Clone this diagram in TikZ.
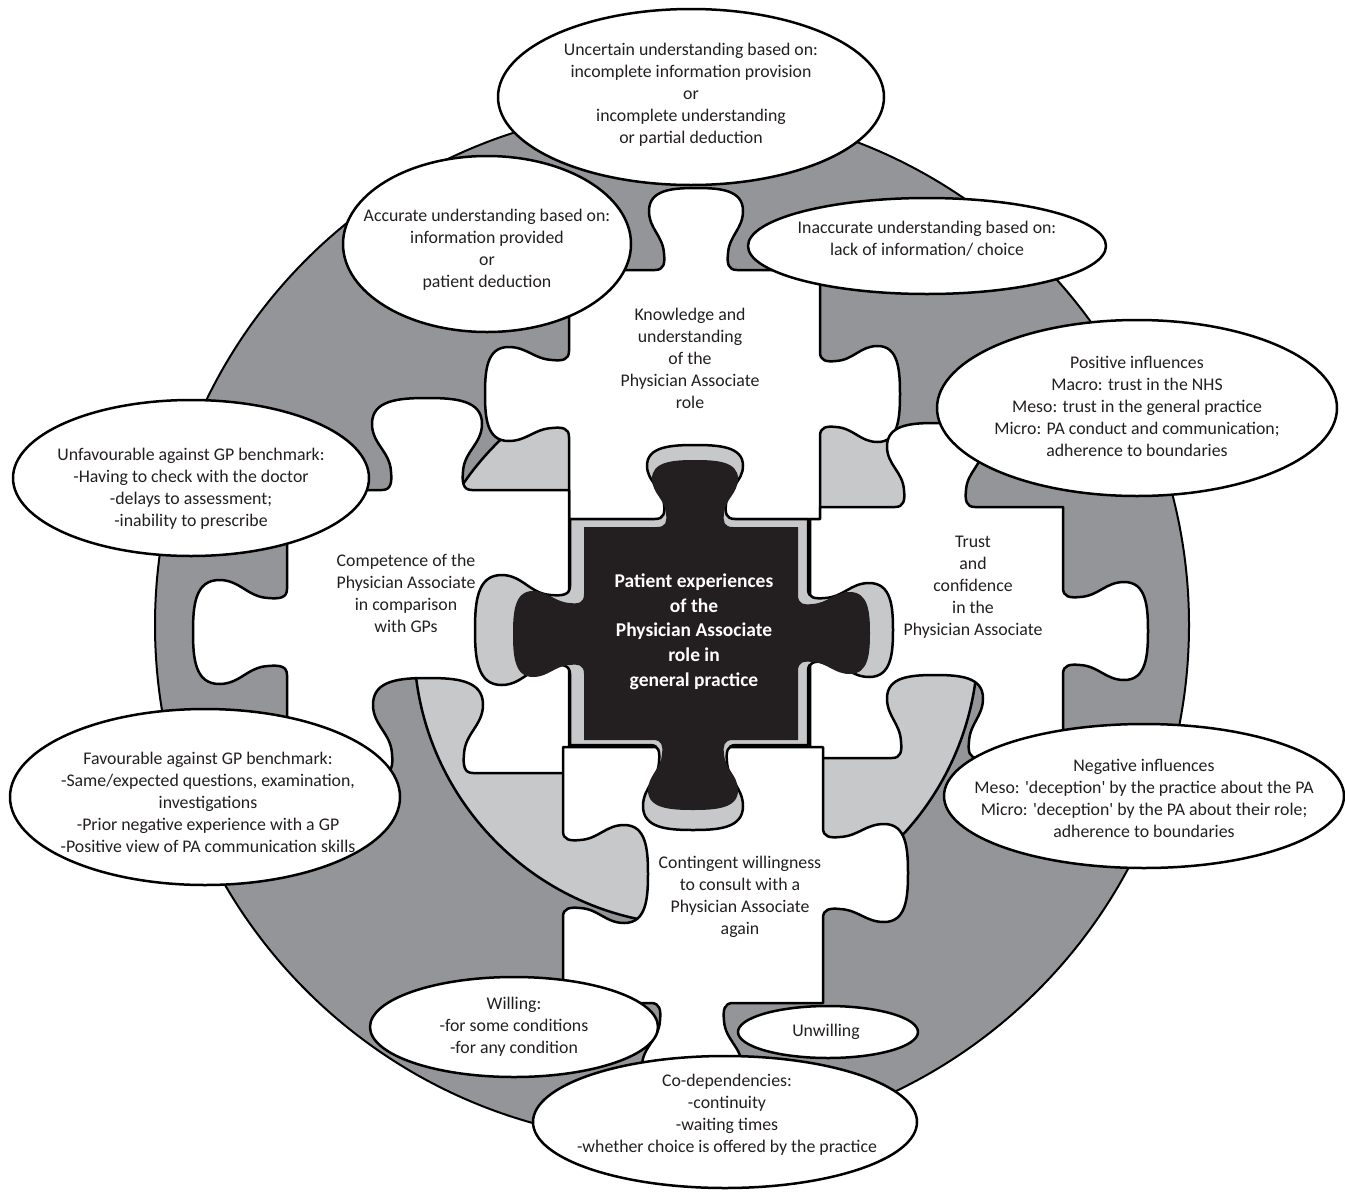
\documentclass[tikz,border=0pt]{standalone}
\usepackage{fontspec}
\setmainfont{Carlito}
\definecolor{dgray}{HTML}{939598}
\definecolor{lgray}{HTML}{C7C8CA}
\definecolor{pblack}{HTML}{231F20}
% knob / blank on an edge: #1,#2 base centre; #3,#4 tangent; #5,#6 outward normal; #7 neck half width; #8 bulb half width; #9 height
\newcommand\KN[9]{%
 -- ({#1+(-#7-8)*(#3)},{#2+(-#7-8)*(#4)})
 .. controls ({#1+(-#7+1)*(#3)},{#2+(-#7+1)*(#4)}) and ({#1+(-#7+2)*(#3)+0.08*#9*(#5)},{#2+(-#7+2)*(#4)+0.08*#9*(#6)}) .. ({#1+(-#7+1)*(#3)+0.2*#9*(#5)},{#2+(-#7+1)*(#4)+0.2*#9*(#6)})
 .. controls ({#1+(-#7)*(#3)+0.42*#9*(#5)},{#2+(-#7)*(#4)+0.42*#9*(#6)}) and ({#1+(-#8)*(#3)+0.5*#9*(#5)},{#2+(-#8)*(#4)+0.5*#9*(#6)}) .. ({#1+(-#8)*(#3)+0.72*#9*(#5)},{#2+(-#8)*(#4)+0.72*#9*(#6)})
 .. controls ({#1+(-#8)*(#3)+0.98*#9*(#5)},{#2+(-#8)*(#4)+0.98*#9*(#6)}) and ({#1+(-0.5*#8)*(#3)+#9*(#5)},{#2+(-0.5*#8)*(#4)+#9*(#6)}) .. ({#1+#9*(#5)},{#2+#9*(#6)})
 .. controls ({#1+(0.5*#8)*(#3)+#9*(#5)},{#2+(0.5*#8)*(#4)+#9*(#6)}) and ({#1+(#8)*(#3)+0.98*#9*(#5)},{#2+(#8)*(#4)+0.98*#9*(#6)}) .. ({#1+(#8)*(#3)+0.72*#9*(#5)},{#2+(#8)*(#4)+0.72*#9*(#6)})
 .. controls ({#1+(#8)*(#3)+0.5*#9*(#5)},{#2+(#8)*(#4)+0.5*#9*(#6)}) and ({#1+(#7)*(#3)+0.42*#9*(#5)},{#2+(#7)*(#4)+0.42*#9*(#6)}) .. ({#1+(#7-1)*(#3)+0.2*#9*(#5)},{#2+(#7-1)*(#4)+0.2*#9*(#6)})
 .. controls ({#1+(#7-2)*(#3)+0.08*#9*(#5)},{#2+(#7-2)*(#4)+0.08*#9*(#6)}) and ({#1+(#7-1)*(#3)},{#2+(#7-1)*(#4)}) .. ({#1+(#7+8)*(#3)},{#2+(#7+8)*(#4)})
}
\newcommand\st{\rule[-6.6pt]{0pt}{22pt}}
\newcommand\stb{\rule[-7.4pt]{0pt}{24.7pt}}
\newcommand\q{\textquotesingle}
\begin{document}
\begin{tikzpicture}[x=1pt,y=-1pt,
  outl/.style={draw=black, line width=2.5pt, line join=round},
  piece/.style={outl, fill=white},
  bubble/.style={outl, fill=white},
  txt/.style={align=center, text=pblack, font=\fontsize{17.8}{22}\selectfont, inner sep=0pt},
  ctxt/.style={align=center, text=white, font=\bfseries\fontsize{19.5}{24.7}\selectfont, inner sep=0pt}]
\useasboundingbox (0,0) rectangle (1345,1192);
\fill[white] (0,0) rectangle (1345,1192);
% background discs
\path[fill=dgray, draw=black, line width=2pt] (672,625) circle (517pt);
\path[fill=lgray, draw=black, line width=2.5pt] (696,643) circle (282pt);
% white puzzle pieces
\path[piece] (569,270) \KN{696}{270}{1}{0}{0}{-1}{33}{47}{82} -- (820,270)
   \KN{820}{394}{0}{1}{1}{0}{34}{48}{80} -- (820,519) -- (569,519)
   \KN{569}{394}{0}{-1}{-1}{0}{35}{47}{84} -- cycle;
\path[piece] (287,490) \KN{427}{490}{1}{0}{0}{-1}{37}{55}{92} -- (569,490) -- (569,773)
   \KN{428}{773}{-1}{0}{0}{-1}{37}{55}{95} -- (287,773)
   \KN{287}{632}{0}{-1}{-1}{0}{35}{52}{94} -- cycle;
\path[piece] (820,507) \KN{935}{507}{1}{0}{0}{-1}{32}{48}{84} -- (1063,507)
   \KN{1063}{631}{0}{1}{1}{0}{35}{49}{85} -- (1063,758)
   \KN{935}{758}{-1}{0}{0}{-1}{35}{48}{83} -- (810,758) -- (810,519) -- (820,519) -- cycle;
\path[piece] (563,747) -- (823,747) \KN{823}{873}{0}{1}{1}{0}{37}{49}{85} -- (823,1003)
   \KN{692}{1003}{-1}{0}{0}{1}{33}{50}{88} -- (563,1003)
   \KN{563}{874}{0}{-1}{1}{0}{35}{49}{85} -- cycle;
% central piece
\path[outl, fill=lgray] (570,519) \KN{695}{519}{1}{0}{0}{-1}{32}{48}{74} -- (808,519)
   \KN{808}{630}{0}{1}{1}{0}{33}{47}{85} -- (808,745)
   \KN{693}{745}{-1}{0}{0}{1}{35}{50}{85} -- (570,745)
   \KN{570}{630}{0}{-1}{-1}{0}{36}{55}{95} -- cycle;
\path[fill=pblack] (584,527) \KN{695}{527}{1}{0}{0}{-1}{30}{43}{67} -- (798,527)
   \KN{798}{633}{0}{1}{1}{0}{30}{41}{72} -- (798,740)
   \KN{693}{740}{-1}{0}{0}{1}{32}{45}{70} -- (584,740)
   \KN{584}{634}{0}{-1}{-1}{0}{32}{43}{71} -- cycle;
% piece texts
\node[txt] (tKnow) at (690,360) {\st Knowledge and\\\st understanding\\\st of the\\\st Physician Associate\\\st role};
\node[txt] (tComp) at (406,595) {\st Competence of the\\\st Physician Associate\\\st in comparison\\\st with GPs};
\node[txt] (tTrust) at (973,587) {\st Trust\\\st and\\\st confidence\\\st in the\\\st Physician Associate};
\node[txt] (tCont) at (740,897) {\st Contingent willingness\\\st to consult with a\\\st Physician Associate\\\st again};
\node[ctxt] (tCentre) at (694,632) {\stb Patient experiences\\\stb of the\\\stb Physician Associate\\\stb role in\\\stb general practice};
% bubbles
\path[bubble] (691,97) ellipse (193pt and 88pt);
\node[txt] (tUnc) at (691,95) {\st Uncertain understanding based on:\\\st incomplete information provision\\\st or\\\st incomplete understanding\\\st or partial deduction};
\path[bubble] (487,244) ellipse (144pt and 88pt);
\node[txt] (tAcc) at (487,250) {\st Accurate understanding based on:\\\st information provided\\\st or\\\st patient deduction};
\path[bubble] (927,246) ellipse (179pt and 48pt);
\node[txt] (tInacc) at (927,240) {\st Inaccurate understanding based on:\\\st lack of information/ choice};
\path[bubble] (1137,408) ellipse (200pt and 88pt);
\node[txt] (tPos) at (1137,408) {\st Positive influences\\\st Macro: trust in the NHS\\\st Meso: trust in the general practice\\\st Micro: PA conduct and communication;\\\st adherence to boundaries};
\path[bubble] (191,478) ellipse (178pt and 78pt);
\node[txt] (tUnf) at (191,489) {\st Unfavourable against GP benchmark:\\\st -Having to check with the doctor\\\st -delays to assessment;\\\st -inability to prescribe};
\path[bubble] (205,797) ellipse (195pt and 88pt);
\node[txt] (tFav) at (208,804) {\st Favourable against GP benchmark:\\\st -Same/expected questions, examination,\\\st investigations\\\st -Prior negative experience with a GP\\\st -Positive view of PA communication skills};
\path[bubble] (1144,796) ellipse (200pt and 72pt);
\node[txt] (tNeg) at (1144,800) {\st Negative influences\\\st Meso: \q deception\q{} by the practice about the PA\\\st Micro: \q deception\q{} by the PA about their role;\\\st adherence to boundaries};
\path[bubble] (514,1027) ellipse (144pt and 50pt);
\node[txt] (tWill) at (514,1027) {\st Willing:\\\st -for some conditions\\\st -for any condition};
\path[bubble] (828,1032) ellipse (90pt and 26pt);
\node[txt] (tUnw) at (826,1032) {\st Unwilling};
\path[bubble] (725,1122) ellipse (192pt and 66pt);
\node[txt] (tCo) at (727,1115) {\st Co-dependencies:\\\st -continuity\\\st -waiting times\\\st -whether choice is offered by the practice};
\end{tikzpicture}
\end{document}
